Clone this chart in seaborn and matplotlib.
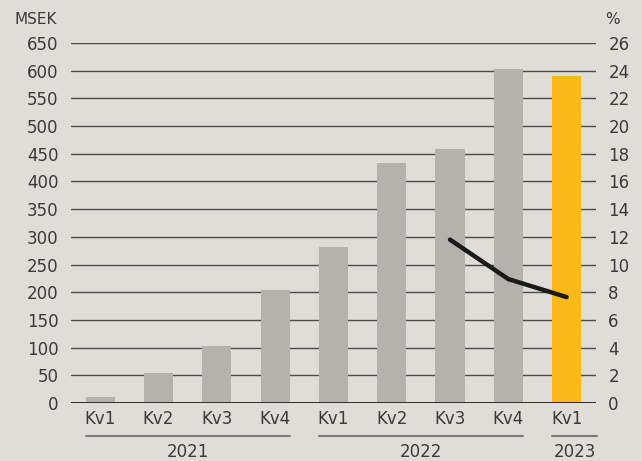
import matplotlib
matplotlib.use('Agg')
import matplotlib.pyplot as plt
import seaborn as sns
import pandas as pd

quarters = ['Kv1', 'Kv2', 'Kv3', 'Kv4', 'Kv1', 'Kv2', 'Kv3', 'Kv4', 'Kv1']
years = ['2021', '2021', '2021', '2021', '2022', '2022', '2022', '2022', '2023']
msek = [10, 54, 103, 204, 282, 433, 459, 603, 590]
pct_quarters = [6, 7, 8]
pct = [11.8, 8.95, 7.65]

bg = '#E0DDD9'
grey = '#B5B2AE'
yellow = '#FBB819'
txt = '#3a3a3a'

sns.set_style('white')
plt.rcParams['font.family'] = ['DejaVu Sans']

df = pd.DataFrame({'key': [y + ' ' + q for y, q in zip(years, quarters)], 'msek': msek})
colors = [grey] * 8 + [yellow]

fig = plt.figure(figsize=(6.42, 4.61), dpi=100, facecolor=bg)
ax = fig.add_axes([0.1106, 0.1258, 0.8174, 0.7809])
ax.set_facecolor(bg)

sns.barplot(data=df, x='key', y='msek', hue='key', palette=colors, legend=False,
            width=0.5, saturation=1, linewidth=0, edgecolor='none', ax=ax, zorder=3)

ax.set_xlim(-0.5, 8.5)
ax.set_ylim(0, 650)
ax.set_yticks(range(0, 651, 50))
ax.yaxis.grid(True, color='#4a4a4a', linewidth=1.0, zorder=0)
ax.set_axisbelow(True)
for s in ax.spines.values():
    s.set_visible(False)
ax.axhline(0, color='#222222', linewidth=1.3, zorder=4)
ax.set_xlabel('')
ax.set_ylabel('')
ax.set_xticks(range(9))
ax.set_xticklabels(quarters)
ax.tick_params(axis='both', length=0, labelsize=12, colors=txt)
ax.tick_params(axis='y', pad=9)
ax.tick_params(axis='x', pad=5)

ax2 = ax.twinx()
sns.lineplot(x=pct_quarters, y=pct, color='#1a1a1a', linewidth=3.2, ax=ax2, zorder=5)
ax2.set_ylim(0, 26)
ax2.set_yticks(range(0, 27, 2))
ax2.tick_params(axis='y', length=0, labelsize=12, colors=txt, pad=9)
for s in ax2.spines.values():
    s.set_visible(False)
ax2.set_xlim(-0.5, 8.5)

# year groups
tr = ax.get_xaxis_transform()
groups = [('2021', -0.25, 3.25), ('2022', 3.75, 7.25), ('2023', 7.75, 8.52)]
for name, x0, x1 in groups:
    ax.plot([x0, x1], [-0.092, -0.092], transform=tr, color='#7a7a7a',
            linewidth=1.5, clip_on=False)
    ax.text((x0 + x1) / 2, -0.135, name, transform=tr, ha='center', va='center',
            fontsize=12, color=txt)

fig.text(15 / 642, 1 - 19 / 461, 'MSEK', ha='left', va='center', fontsize=11, color=txt)
fig.text(605 / 642, 1 - 19 / 461, '%', ha='left', va='center', fontsize=11, color=txt)

fig.savefig('out.png', dpi=100, facecolor=bg)
